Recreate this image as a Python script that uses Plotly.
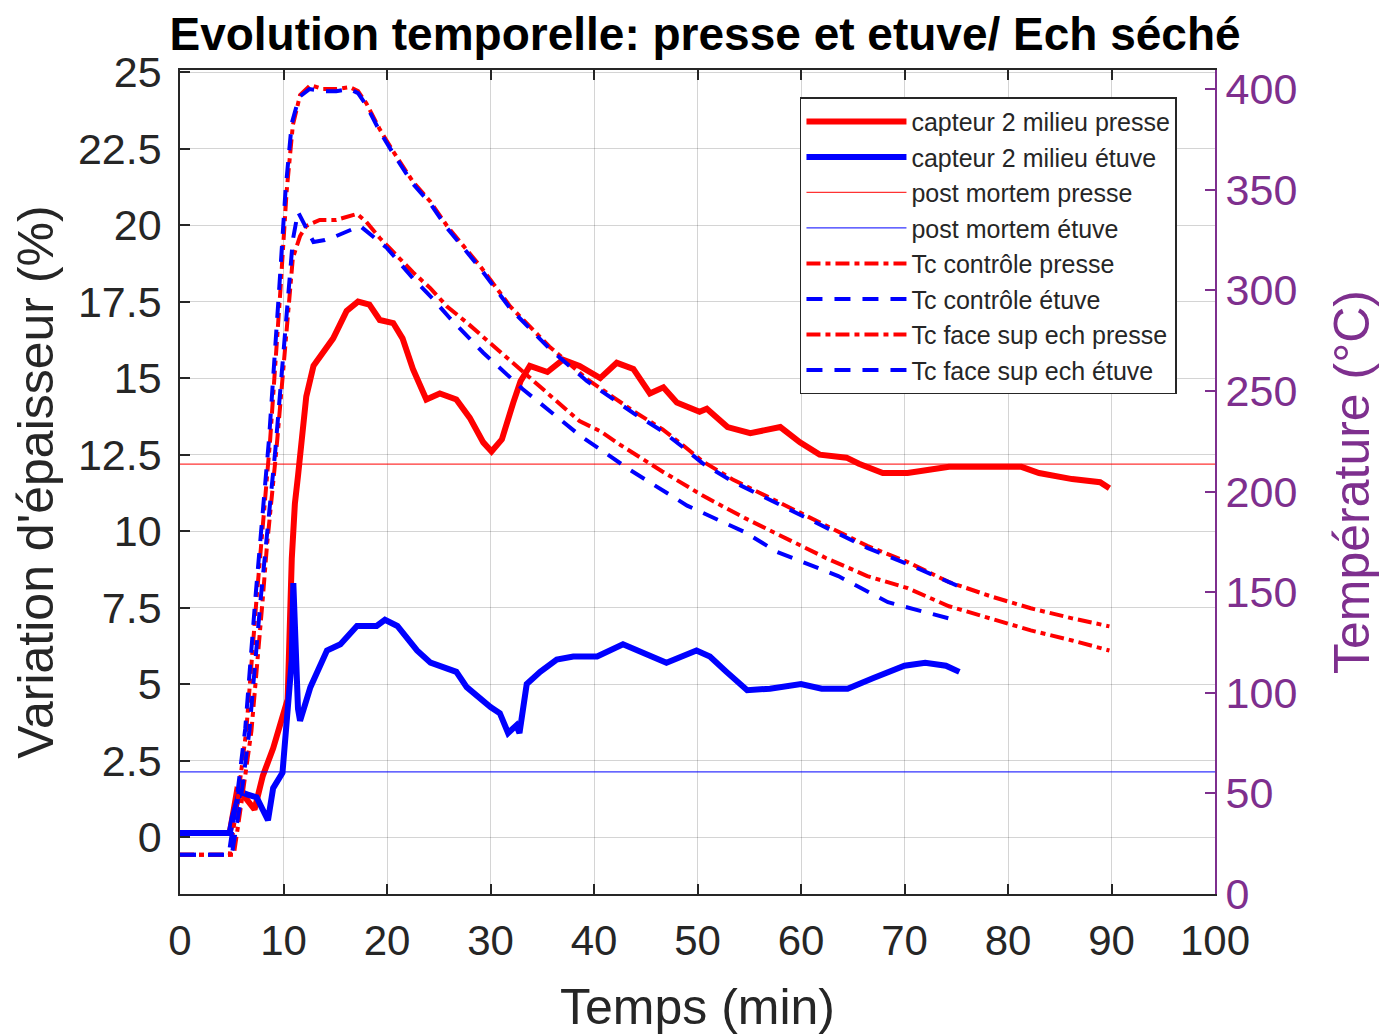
import plotly.graph_objects as go

# ---------------- data ----------------
t_cap_presse = [0, 4.8, 5.5, 6.3, 7.2, 8.0, 9.0, 9.5, 10.4, 10.8, 11.1, 11.4, 11.8, 12.2, 12.9, 13.8,
                14.8, 16.1, 17.2, 18.3, 19.3, 20.6, 21.5, 22.5, 23.8, 25.1, 26.7, 28.0, 29.3, 30.1,
                31.1, 32.2, 32.9, 33.8, 35.5, 37.0, 38.6, 40.6, 42.2, 43.8, 45.4, 46.7, 48.0, 50.2,
                50.9, 52.9, 55.1, 58.0, 59.9, 61.8, 64.4, 65.6, 67.9, 70.3, 74.3, 78.3, 81.3, 83.0,
                86.2, 88.9, 89.8]
v_cap_presse = [0.13, 0.13, 1.5, 1.3, 0.9, 2.0, 2.9, 3.5, 4.5, 9.1, 10.9, 11.8, 12.9, 14.4, 15.4, 15.8,
                16.3, 17.2, 17.5, 17.4, 16.9, 16.8, 16.3, 15.3, 14.3, 14.5, 14.3, 13.7, 12.9, 12.6,
                13.0, 14.2, 14.9, 15.4, 15.2, 15.6, 15.4, 15.0, 15.5, 15.3, 14.5, 14.7, 14.2, 13.9,
                14.0, 13.4, 13.2, 13.4, 12.9, 12.5, 12.4, 12.2, 11.9, 11.9, 12.1, 12.1, 12.1, 11.9,
                11.7, 11.6, 11.4]

t_cap_etuve = [0, 4.8, 5.1, 5.8, 6.4, 7.4, 8.5, 9.0, 9.9, 10.3, 10.8, 10.95, 11.4, 11.6, 12.6, 14.2,
               15.5, 17.1, 19.0, 19.8, 21.0, 22.9, 24.2, 26.7, 27.7, 30.0, 30.9, 31.7, 32.5, 32.8,
               33.5, 34.8, 36.4, 38.0, 40.3, 42.8, 44.1, 47.0, 49.9, 51.2, 52.8, 54.8, 57.0, 60.0,
               62.0, 64.5, 67.0, 70.0, 72.0, 74.0, 75.3]
v_cap_etuve = [0.13, 0.13, 0.65, 1.5, 1.4, 1.3, 0.55, 1.6, 2.1, 3.6, 5.8, 8.3, 4.2, 3.8, 4.9, 6.1,
               6.3, 6.9, 6.9, 7.1, 6.9, 6.1, 5.7, 5.4, 4.9, 4.25, 4.05, 3.4, 3.65, 3.4,
               5.0, 5.4, 5.8, 5.9, 5.9, 6.3, 6.1, 5.7, 6.1, 5.9, 5.4, 4.8, 4.85, 5.0,
               4.85, 4.85, 5.2, 5.6, 5.7, 5.6, 5.4]

pm_x = [0, 100]
pm_presse = 12.19
pm_etuve = 2.13

t_ctrl_presse = [0, 4.8, 5.5, 6.4, 7.4, 8.7, 9.7, 10.3, 10.9, 11.6, 12.6, 13.8, 15.1, 16.4, 17.2,
                 18.0, 19.3, 20.6, 22.5, 24.2, 25.8, 27.4, 29.0, 30.6, 31.9, 35.7, 39.3, 43.8, 46.6,
                 48.6, 50.5, 53.4, 58.5, 62.4, 66.4, 70.3, 74.3, 78.3, 82.2, 86.2, 89.8]
T_ctrl_presse = [19.5, 19.5, 44, 81, 147, 225, 300, 349, 382, 397, 402, 400, 400, 401, 399,
                 393, 380, 369, 354, 344, 332, 322, 312, 301, 292, 272, 256, 240, 231,
                 223, 215, 206, 193, 183, 173, 165, 155, 148, 142, 137, 133]

t_ctrl_etuve = [0, 4.7, 5.4, 6.3, 7.3, 8.6, 9.6, 10.2, 10.8, 11.5, 12.5, 13.8, 15.1, 16.4, 17.2,
                18.0, 19.3, 20.6, 22.5, 24.2, 25.8, 27.4, 29.0, 30.6, 31.9, 35.7, 39.3, 43.8, 46.6,
                48.6, 50.5, 53.4, 58.5, 62.4, 66.4, 70.3, 74.3, 75.2]
T_ctrl_etuve = [19.5, 19.5, 44, 82, 148, 226, 302, 350, 383, 396, 400, 399, 399, 400, 398,
                392, 379, 368, 353, 343, 331, 321, 311, 300, 291, 271, 255, 239, 230,
                222, 214, 205, 192, 182, 172, 164, 155, 153]

t_face_presse = [0, 5.2, 5.9, 6.9, 8.0, 8.4, 9.3, 10.6, 10.9, 11.6, 12.2, 13.5, 15.1, 17.1, 18.0,
                 19.3, 21.0, 22.5, 24.2, 25.8, 27.7, 31.9, 35.7, 38.6, 40.6, 42.6, 46.6, 50.5,
                 54.5, 58.5, 62.4, 66.4, 70.3, 74.3, 78.3, 82.2, 86.2, 89.8]
T_face_presse = [19.5, 19.5, 44, 81, 147, 173, 220, 294, 316, 327, 332, 335, 335, 338, 334,
                 326, 317, 309, 301, 292, 284, 265, 248, 235, 230, 223, 210, 198,
                 187, 177, 167, 158, 152, 143, 137, 131, 126, 121]

t_face_etuve = [0, 5.0, 5.8, 6.7, 7.8, 8.3, 9.2, 10.4, 10.9, 11.4, 12.0, 12.9, 14.0, 15.1, 17.4,
                18.6, 20.0, 22.5, 24.4, 26.1, 29.3, 33.1, 36.7, 38.6, 40.6, 43.4, 49.0, 54.5,
                57.7, 63.6, 68.4, 73.5, 75.0]
T_face_etuve = [19.5, 19.5, 44, 81, 147, 173, 220, 294, 325, 339, 333, 324, 325, 327, 332,
                327, 321, 306, 296, 286, 269, 251, 236, 228, 221, 211, 193, 180,
                170, 158, 145, 138, 136]

x_ticks = list(range(0, 101, 10))
y_ticks = [0, 2.5, 5, 7.5, 10, 12.5, 15, 17.5, 20, 22.5, 25]
y_ticktext = ["0", "2.5", "5", "7.5", "10", "12.5", "15", "17.5", "20", "22.5", "25"]
y2_ticks = list(range(0, 401, 50))

title_text = "Evolution temporelle: presse et etuve/ Ech séché"
x_title = "Temps (min)"
y_title = "Variation d'épaisseur (%)"
y2_title = "Température (°C)"

# ---------------- style ----------------
RED = "#FF0000"
BLUE = "#0000FF"
PURPLE = "#7E2F8E"
DARK = "#262626"
FONT = "Liberation Sans, Arial, Helvetica, sans-serif"
RED_DASH = "14px,5px,5px,5px"
BLUE_DASH = "16px,12px"
GRID = "rgba(0,0,0,0.17)"

fig = go.Figure()

fig.add_trace(go.Scatter(x=t_cap_presse, y=v_cap_presse, mode="lines", name="capteur 2 milieu presse",
                         line=dict(color=RED, width=6)))
fig.add_trace(go.Scatter(x=t_cap_etuve, y=v_cap_etuve, mode="lines", name="capteur 2 milieu étuve",
                         line=dict(color=BLUE, width=6)))
fig.add_trace(go.Scatter(x=pm_x, y=[pm_presse] * 2, mode="lines", name="post mortem presse",
                         line=dict(color=RED, width=1.3), opacity=0.8))
fig.add_trace(go.Scatter(x=pm_x, y=[pm_etuve] * 2, mode="lines", name="post mortem étuve",
                         line=dict(color=BLUE, width=1.3), opacity=0.8))
fig.add_trace(go.Scatter(x=t_ctrl_presse, y=T_ctrl_presse, mode="lines", name="Tc contrôle presse",
                         line=dict(color=RED, width=4, dash=RED_DASH), yaxis="y2"))
fig.add_trace(go.Scatter(x=t_ctrl_etuve, y=T_ctrl_etuve, mode="lines", name="Tc contrôle étuve",
                         line=dict(color=BLUE, width=4, dash=BLUE_DASH), yaxis="y2"))
fig.add_trace(go.Scatter(x=t_face_presse, y=T_face_presse, mode="lines", name="Tc face sup ech presse",
                         line=dict(color=RED, width=4, dash=RED_DASH), yaxis="y2"))
fig.add_trace(go.Scatter(x=t_face_etuve, y=T_face_etuve, mode="lines", name="Tc face sup ech étuve",
                         line=dict(color=BLUE, width=4, dash=BLUE_DASH), yaxis="y2"))

fig.update_layout(
    width=1383, height=1035,
    margin=dict(l=180, r=168, t=70, b=141, autoexpand=False),
    paper_bgcolor="white", plot_bgcolor="white",
    font=dict(family=FONT, color=DARK),
    title=dict(text="<b>" + title_text + "</b>", x=0.5098, xanchor="center", y=0.967, yanchor="middle",
               font=dict(size=46, color="black", family=FONT)),
    showlegend=True,
    legend=dict(x=0.599, y=0.967, xanchor="left", yanchor="top", bgcolor="white",
                bordercolor=DARK, borderwidth=1.5, font=dict(size=25, color=DARK, family=FONT),
                itemwidth=100, traceorder="normal"),
    xaxis=dict(range=[0, 100], tickvals=x_ticks, ticks="inside", ticklen=10, tickwidth=1.5,
               tickcolor=DARK, showline=True, linecolor=DARK, linewidth=1.5, mirror="ticks",
               showgrid=True, gridcolor=GRID, gridwidth=1, zeroline=False, automargin=False,
               ticklabelstandoff=9,
               tickfont=dict(size=42, color=DARK),
               title=dict(text=x_title, font=dict(size=50, color=DARK), standoff=33)),
    yaxis=dict(range=[-1.86, 25.07], tickvals=y_ticks, ticktext=y_ticktext, ticks="inside", ticklen=10,
               tickwidth=1.5, tickcolor=DARK, showline=True, linecolor=DARK, linewidth=1.5,
               showgrid=True, gridcolor=GRID, gridwidth=1, zeroline=False, automargin=False,
               ticklabelstandoff=8,
               tickfont=dict(size=43, color=DARK),
               title=dict(text=y_title, font=dict(size=50, color=DARK), standoff=8)),
    yaxis2=dict(range=[0, 409.5], tickvals=y2_ticks, overlaying="y", side="right", ticks="inside", ticklen=10,
                tickwidth=1.5, tickcolor=PURPLE, showline=True, linecolor=PURPLE, linewidth=2,
                showgrid=False, zeroline=False, automargin=False, tickfont=dict(size=43, color=PURPLE),
                title=dict(text=y2_title, font=dict(size=50, color=PURPLE), standoff=38)),
)

fig.write_html("out.html", config={"displayModeBar": False},
               post_script="document.body.style.margin='0px';")
